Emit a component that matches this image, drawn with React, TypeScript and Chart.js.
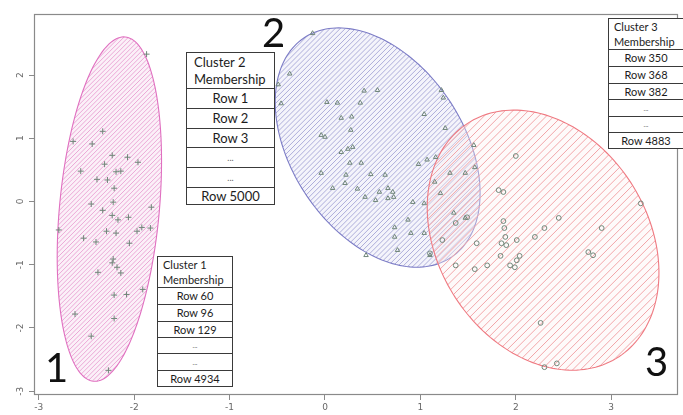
import React, { useEffect, useRef } from "react";
import { Chart, registerables } from "chart.js";
Chart.register(...registerables);

// ---------- data ----------
const clusterNames = ["1", "2", "3"];

const c1X = [-1.87,-2.33,-2.64,-2.44,-2.23,-2.07,-1.96,-2.31,-2.56,-2.19,-2.14,-2.39,-2.28,-2.21,-2.45,-2.22,-1.82,-2.33,-2.23,-2.17,-2.06,-2.79,-2.29,-2.19,-2.53,-2.40,-2.05,-1.97,-1.92,-1.83,-2.22,-2.23,-2.18,-2.38,-2.14,-1.91,-2.21,-2.08,-2.62,-2.21,-2.45,-2.27];
const c1Y = [2.33,1.11,0.95,0.91,0.73,0.70,0.62,0.59,0.48,0.47,0.48,0.35,0.34,0.21,-0.04,-0.01,-0.09,-0.14,-0.22,-0.29,-0.25,-0.45,-0.47,-0.50,-0.58,-0.64,-0.66,-0.47,-0.41,-0.42,-0.91,-0.97,-1.04,-1.12,-1.13,-1.39,-1.48,-1.47,-1.78,-1.85,-2.13,-2.67];

const c2X = [-0.13,-0.37,-0.49,-0.46,0.41,0.55,0.02,0.13,0.37,1.24,1.22,1.04,0.17,0.28,-0.04,0.00,0.27,1.26,0.17,0.24,0.29,0.26,0.38,0.98,1.07,1.16,1.56,-0.04,0.22,0.48,0.63,0.21,0.08,0.34,0.57,0.66,0.71,0.42,0.53,0.66,0.72,0.92,1.04,1.15,1.31,1.47,1.57,0.73,0.87,0.73,0.90,1.04,0.76,0.43,1.10,1.21,1.35,1.47];
const c2Y = [2.66,2.02,1.85,1.55,1.75,1.76,1.57,1.56,1.56,1.64,1.76,1.38,1.32,1.34,1.05,1.02,1.13,1.16,0.78,0.83,0.86,0.61,0.61,0.59,0.66,0.70,0.89,0.45,0.42,0.43,0.42,0.29,0.21,0.20,0.15,0.21,0.15,0.07,0.02,0.05,0.07,-0.01,-0.03,0.31,0.45,0.45,0.54,-0.41,-0.29,-0.56,-0.50,-0.50,-0.77,-0.85,-0.85,0.13,-0.18,-0.26];

const c3X = [1.82,1.87,2.00,3.31,2.45,1.87,1.88,2.30,2.90,1.89,2.01,2.20,1.59,1.85,1.90,2.76,2.81,1.84,2.04,2.01,1.37,1.70,1.94,1.99,1.57,2.26,2.43,2.30,1.49,1.37,1.23,1.10];
const c3Y = [0.18,0.15,0.72,-0.03,-0.26,-0.31,-0.42,-0.42,-0.42,-0.56,-0.61,-0.56,-0.66,-0.66,-0.69,-0.80,-0.85,-0.86,-0.86,-0.93,-1.01,-1.01,-1.01,-1.04,-1.07,-1.92,-2.56,-2.62,-0.25,-0.34,-0.61,-0.82];

// ellipse parameters (data units): centre, major semi-axis vector, minor semi-axis vector
const ellipseCX = [-2.26, 0.552, 2.286];
const ellipseCY = [-0.12, 0.853, -0.611];
const ellipseMajX = [-0.166, 0.777, 0.795];
const ellipseMajY = [-2.722, -1.729, -1.843];
const ellipseMinX = [-0.521, -0.741, -0.918];
const ellipseMinY = [0.073, -0.768, -0.913];

const xTickValues = [-3, -2, -1, 0, 1, 2, 3];
const yTickValues = [-3, -2, -1, 0, 1, 2];
const xRange = [-3.05, 3.70];
const yRange = [-3.06, 2.965];

const cluster1Rows = ["Row 60", "Row 96", "Row 129", "...", "...", "Row 4934"];
const cluster2Rows = ["Row 1", "Row 2", "Row 3", "...", "...", "Row 5000"];
const cluster3Rows = ["Row 350", "Row 368", "Row 382", "...", "...", "Row 4883"];

// ---------- styles ----------
const hatchStyles = [
  { line: "#eba8d6", stroke: "#e070c0", gap: 3.2, bg: "rgba(248,230,243,0.6)" },
  { line: "#adadda", stroke: "#7c7cc6", gap: 3.6, bg: "rgba(234,234,247,0.5)" },
  { line: "#f2a6a9", stroke: "#ef7a82", gap: 5.5, bg: "rgba(253,240,240,0.35)" },
];
const pointColor = "#71877a";

const ellipsePlugin = {
  id: "ellipses",
  beforeDatasetsDraw(chart: any) {
    const { ctx, chartArea } = chart;
    const xs = chart.scales.x;
    const ys = chart.scales.y;
    for (let i = 0; i < ellipseCX.length; i++) {
      const st = hatchStyles[i];
      const path = new Path2D();
      const N = 180;
      for (let k = 0; k <= N; k++) {
        const t = (k / N) * Math.PI * 2;
        const dx = ellipseCX[i] + Math.cos(t) * ellipseMajX[i] + Math.sin(t) * ellipseMinX[i];
        const dy = ellipseCY[i] + Math.cos(t) * ellipseMajY[i] + Math.sin(t) * ellipseMinY[i];
        const px = xs.getPixelForValue(dx);
        const py = ys.getPixelForValue(dy);
        if (k === 0) path.moveTo(px, py);
        else path.lineTo(px, py);
      }
      path.closePath();
      ctx.save();
      ctx.clip(path);
      ctx.fillStyle = st.bg;
      ctx.fillRect(chartArea.left, chartArea.top, chartArea.width, chartArea.height);
      ctx.strokeStyle = st.line;
      ctx.lineWidth = 1;
      ctx.beginPath();
      const step = st.gap * Math.SQRT2;
      const cMin = chartArea.left + chartArea.top;
      const cMax = chartArea.right + chartArea.bottom;
      for (let c = cMin; c <= cMax; c += step) {
        ctx.moveTo(c - chartArea.top, chartArea.top);
        ctx.lineTo(c - chartArea.bottom, chartArea.bottom);
      }
      ctx.stroke();
      ctx.restore();
      ctx.save();
      ctx.strokeStyle = st.stroke;
      ctx.lineWidth = 1.1;
      ctx.stroke(path);
      ctx.restore();
    }
  },
  afterDraw(chart: any) {
    const { ctx, chartArea } = chart;
    const ys = chart.scales.y;
    ctx.save();
    ctx.strokeStyle = "#8a8a8a";
    ctx.lineWidth = 1.2;
    ctx.strokeRect(chartArea.left + 0.5, chartArea.top + 0.5, chartArea.width - 1, chartArea.height - 1);
    ctx.fillStyle = "#666";
    ctx.font = "9px 'DejaVu Sans'";
    ctx.textAlign = "center";
    ctx.textBaseline = "middle";
    yTickValues.forEach((v) => {
      const py = ys.getPixelForValue(v);
      ctx.save();
      ctx.translate(chartArea.left - 13.5, py);
      ctx.rotate(-Math.PI / 2);
      ctx.fillText(String(v), 0, 0);
      ctx.restore();
    });
    ctx.restore();
  },
};

function Table(props: { left: number; bounds: number[]; width: number; title: string; rows: string[]; font: number; pad: number }) {
  const { left, bounds, width, title, rows, font, pad } = props;
  const border = "1px solid #3a3a3a";
  const headerH = bounds[1] - bounds[0];
  return (
    <div style={{ position: "absolute", left, top: 0, width, height: 0 }}>
      <div
        style={{
          position: "absolute", left: 0, top: bounds[0], width, height: headerH + 1, boxSizing: "border-box",
          border, background: "#fff", fontSize: font, lineHeight: (headerH - 2) / 2 + "px", paddingLeft: pad, paddingTop: 1,
          color: "#1c1c1c", fontFamily: "Lato, 'Open Sans', sans-serif", whiteSpace: "nowrap",
        }}
      >
        <div>{title}</div>
        <div>Membership</div>
      </div>
      {rows.map((r, i) => {
        const top = bounds[i + 1];
        const h = bounds[i + 2] - top + 1;
        const dots = r === "...";
        return (
          <div
            key={i}
            style={{
              position: "absolute", left: 0, top, width, height: h, boxSizing: "border-box", border,
              background: "#fff", textAlign: "center", fontSize: dots ? font - 4 : font, lineHeight: h - 2 + "px",
              color: dots ? "#666" : "#1c1c1c", fontFamily: "Lato, 'Open Sans', sans-serif", whiteSpace: "nowrap",
            }}
          >
            {r}
          </div>
        );
      })}
    </div>
  );
}

export default function App() {
  const ref = useRef<HTMLCanvasElement | null>(null);
  useEffect(() => {
    if (!ref.current) return;
    const mk = (xs: number[], ys: number[]) => xs.map((x, i) => ({ x, y: ys[i] }));
    const chart = new Chart(ref.current, {
      type: "scatter",
      data: {
        datasets: [
          { label: "Cluster " + clusterNames[0], data: mk(c1X, c1Y), pointStyle: "cross", pointRadius: 3, borderColor: pointColor, borderWidth: 1, backgroundColor: "transparent" },
          { label: "Cluster " + clusterNames[1], data: mk(c2X, c2Y), pointStyle: "triangle", pointRadius: 2.6, borderColor: pointColor, borderWidth: 1, backgroundColor: "transparent" },
          { label: "Cluster " + clusterNames[2], data: mk(c3X, c3Y), pointStyle: "circle", pointRadius: 2.4, borderColor: pointColor, borderWidth: 1, backgroundColor: "transparent" },
        ],
      },
      options: {
        animation: false,
        responsive: false,
        devicePixelRatio: 1,
        layout: { padding: { top: 14, right: 1, left: 0, bottom: 0 } },
        plugins: { legend: { display: false }, tooltip: { enabled: false } },
        scales: {
          x: {
            type: "linear",
            min: xRange[0],
            max: xRange[1],
            afterBuildTicks: (s: any) => { s.ticks = xTickValues.map((v) => ({ value: v })); },
            afterFit: (s: any) => { s.height = 20; },
            grid: { display: true, drawOnChartArea: false, drawTicks: true, tickLength: 5, color: "#8a8a8a" },
            border: { display: false },
            ticks: { color: "#666", font: { size: 9, family: "'DejaVu Sans'" }, padding: 2, maxRotation: 0, autoSkip: false },
          },
          y: {
            type: "linear",
            min: yRange[0],
            max: yRange[1],
            afterBuildTicks: (s: any) => { s.ticks = yTickValues.map((v) => ({ value: v })); },
            afterFit: (s: any) => { s.width = 34; },
            grid: { display: true, drawOnChartArea: false, drawTicks: true, tickLength: 5, color: "#8a8a8a" },
            border: { display: false },
            ticks: { display: false },
          },
        },
      },
      plugins: [ellipsePlugin],
    } as any);
    return () => chart.destroy();
  }, []);

  const big: React.CSSProperties = { position: "absolute", fontFamily: "Lato, 'Open Sans', sans-serif", fontSize: 40, lineHeight: "40px", color: "#111" };
  return (
    <div style={{ position: "fixed", left: 0, top: 0, width: 683, height: 415, overflow: "hidden", background: "#fff" }}>
      <canvas ref={ref} width={683} height={415} style={{ position: "absolute", left: 0, top: 0, width: 683, height: 415 }} />
      <Table left={186} width={89} bounds={[52, 88, 108, 128, 147, 167, 187, 204]} title="Cluster 2" rows={cluster2Rows} font={13} pad={7} />
      <Table left={157} width={76} bounds={[256, 287, 304, 321, 337, 353, 370, 386]} title="Cluster 1" rows={cluster1Rows} font={11} pad={5} />
      <Table left={608} width={76} bounds={[18, 49, 66, 83, 99, 116, 132, 148]} title="Cluster 3" rows={cluster3Rows} font={11} pad={5} />
      <div style={{ ...big, left: 262, top: 12 }}>{clusterNames[1]}</div>
      <div style={{ ...big, left: 45, top: 347 }}>{clusterNames[0]}</div>
      <div style={{ ...big, left: 645, top: 341 }}>{clusterNames[2]}</div>
    </div>
  );
}
